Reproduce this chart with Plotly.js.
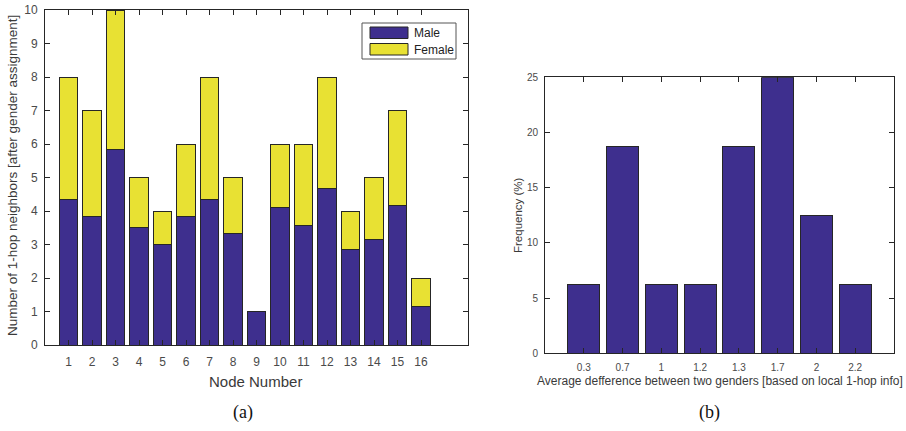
<!DOCTYPE html>
<html>
<head>
<meta charset="utf-8">
<script src="https://cdn.plot.ly/plotly-3.0.1.min.js"></script>
<style>html,body{margin:0;padding:0;background:#fff;}#chart{width:906px;height:431px;}</style>
</head>
<body>
<div id="chart"></div>
<script>
// ---- Data: panel (a) ----
const nodes = [1,2,3,4,5,6,7,8,9,10,11,12,13,14,15,16];
const maleCounts = [4.33,3.83,5.84,3.51,3.0,3.83,4.33,3.34,1.0,4.1,3.58,4.68,2.84,3.16,4.16,1.16];
const totalCounts = [8,7,10,5,4,6,8,5,1,6,6,8,4,5,7,2];
const femaleCounts = totalCounts.map((t,i)=>+(t - maleCounts[i]).toFixed(2));
const seriesNames = ["Male","Female"];

// ---- Data: panel (b) ----
const diffCategories = ["0.3","0.7","1","1.2","1.3","1.7","2","2.2"];
const frequencyPct = [6.25,18.75,6.25,6.25,18.75,25,12.5,6.25];

const W = 906, H = 431;
const purple = "#3e2f8e", yellow = "#e8e133", edge = "#262626";
const axColor = "#262626", tickFontColor = "#4a4a4a";
const font = "'Liberation Sans', Arial, Helvetica, sans-serif";
const serif = "'Liberation Serif', 'DejaVu Serif', serif";

const px = x => x / W;
const py = y => 1 - y / H;

const traces = [
  {type:"bar", x:nodes, y:maleCounts, name:seriesNames[0], marker:{color:purple, line:{color:edge, width:1}}, width:0.78, xaxis:"x", yaxis:"y", showlegend:false},
  {type:"bar", x:nodes, y:femaleCounts, name:seriesNames[1], marker:{color:yellow, line:{color:edge, width:1}}, width:0.78, xaxis:"x", yaxis:"y", showlegend:false},
  {type:"bar", x:diffCategories, y:frequencyPct, name:"Frequency", marker:{color:purple, line:{color:edge, width:1}}, width:0.82, xaxis:"x2", yaxis:"y2", showlegend:false}
];

const axCommon = {showline:true, linecolor:axColor, linewidth:1, mirror:"ticks", ticks:"inside", ticklen:5, tickcolor:axColor, showgrid:false, zeroline:false, fixedrange:true};

const layout = {
  width:W, height:H, margin:{l:0,r:0,t:0,b:0}, paper_bgcolor:"#fff", plot_bgcolor:"#fff",
  barmode:"stack", bargap:0, showlegend:false,
  font:{family:font, color:tickFontColor},
  xaxis: Object.assign({}, axCommon, {domain:[px(45), px(468)], range:[0,18], tickvals:nodes, ticktext:nodes.map(String), tickfont:{size:12, color:tickFontColor, family:font}, ticklabelstandoff:6, anchor:"y"}),
  yaxis: Object.assign({}, axCommon, {domain:[py(345), py(10)], range:[0,10], tickvals:[0,1,2,3,4,5,6,7,8,9,10], tickfont:{size:12, color:tickFontColor, family:font}, ticklabelstandoff:4, anchor:"x"}),
  xaxis2: Object.assign({}, axCommon, {domain:[px(545), px(894)], type:"category", range:[-1,8], tickfont:{size:10, color:tickFontColor, family:font}, ticklabelstandoff:5, anchor:"y2"}),
  yaxis2: Object.assign({}, axCommon, {domain:[py(353.3), py(77.3)], range:[0,25], tickvals:[0,5,10,15,20,25], tickfont:{size:10, color:tickFontColor, family:font}, ticklabelstandoff:4, anchor:"x2"}),
  shapes:[
    {type:"rect", xref:"paper", yref:"paper", x0:px(362), x1:px(456), y0:py(23), y1:py(59), line:{color:"#555", width:1}, fillcolor:"#fff"},
    {type:"rect", xref:"paper", yref:"paper", x0:px(370), x1:px(408), y0:py(27), y1:py(38.5), line:{color:edge, width:1}, fillcolor:purple},
    {type:"rect", xref:"paper", yref:"paper", x0:px(370), x1:px(408), y0:py(43.5), y1:py(55), line:{color:edge, width:1}, fillcolor:yellow}
  ],
  annotations:[
    {text:seriesNames[0], xref:"paper", yref:"paper", x:px(411.5), y:py(33), xanchor:"left", yanchor:"middle", showarrow:false, font:{size:12, color:"#222", family:font}},
    {text:seriesNames[1], xref:"paper", yref:"paper", x:px(411.5), y:py(49.5), xanchor:"left", yanchor:"middle", showarrow:false, font:{size:12, color:"#222", family:font}},
    {text:"Number of 1-hop neighbors [after gender assignment]", xref:"paper", yref:"paper", x:px(12), y:py(176), textangle:-90, xanchor:"center", yanchor:"middle", showarrow:false, font:{size:13.5, color:"#3a3a3a", family:font}},
    {text:"Node Number", xref:"paper", yref:"paper", x:px(255), y:py(381), xanchor:"center", yanchor:"middle", showarrow:false, font:{size:15, color:"#3a3a3a", family:font}},
    {text:"Frequency (%)", xref:"paper", yref:"paper", x:px(518), y:py(215), textangle:-90, xanchor:"center", yanchor:"middle", showarrow:false, font:{size:11.5, color:"#3a3a3a", family:font}},
    {text:"Average defference between two genders [based on local 1-hop info]", xref:"paper", yref:"paper", x:px(719.5), y:py(381), xanchor:"center", yanchor:"middle", showarrow:false, font:{size:12, color:"#3a3a3a", family:font}},
    {text:"(a)", xref:"paper", yref:"paper", x:px(243), y:py(412), xanchor:"center", yanchor:"middle", showarrow:false, font:{size:18, color:"#111", family:serif}},
    {text:"(b)", xref:"paper", yref:"paper", x:px(709), y:py(412), xanchor:"center", yanchor:"middle", showarrow:false, font:{size:18, color:"#111", family:serif}}
  ]
};

Plotly.newPlot("chart", traces, layout, {staticPlot:true, displayModeBar:false});
</script>
</body>
</html>
